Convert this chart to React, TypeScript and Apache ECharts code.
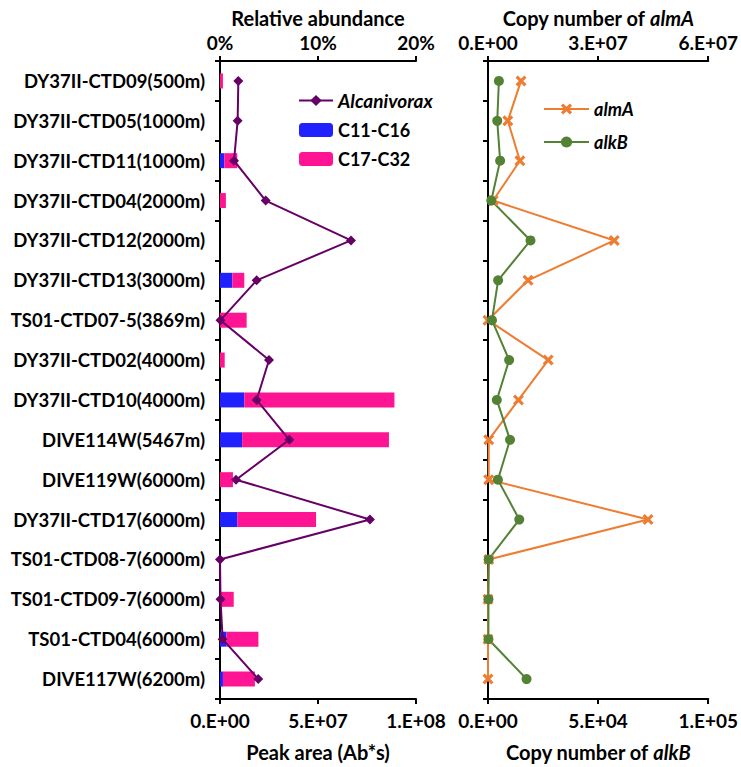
import React, { useEffect, useRef } from "react";
import * as echarts from "echarts";

const categories = [
  "DY37II-CTD09(500m)",
  "DY37II-CTD05(1000m)",
  "DY37II-CTD11(1000m)",
  "DY37II-CTD04(2000m)",
  "DY37II-CTD12(2000m)",
  "DY37II-CTD13(3000m)",
  "TS01-CTD07-5(3869m)",
  "DY37II-CTD02(4000m)",
  "DY37II-CTD10(4000m)",
  "DIVE114W(5467m)",
  "DIVE119W(6000m)",
  "DY37II-CTD17(6000m)",
  "TS01-CTD08-7(6000m)",
  "TS01-CTD09-7(6000m)",
  "TS01-CTD04(6000m)",
  "DIVE117W(6200m)",
];

// Peak area (Ab*s)
const c11c16 = [0, 0, 2.2e6, 0, 0, 6.3e6, 0, 0, 12.4e6, 11.3e6, 0, 8.8e6, 0, 0, 3.3e6, 1.5e6];
const c17c32 = [1.5e6, 0, 6.6e6, 3.0e6, 0, 6.1e6, 13.6e6, 2.4e6, 76.6e6, 74.9e6, 6.6e6, 40.2e6, 0, 7.0e6, 16.3e6, 16.3e6];
// Relative abundance (%)
const alcanivorax = [1.87, 1.8, 1.43, 4.66, 13.37, 3.74, 0.05, 5.0, 3.74, 7.07, 1.63, 15.3, 0.0, 0.05, 0.27, 3.9];
// Copy numbers
const almA = [9.0e6, 5.4e6, 8.7e6, 1.4e6, 34.4e6, 10.9e6, 0, 16.4e6, 8.3e6, 0.2e6, 0.2e6, 43.6e6, 0.2e6, 0, 0, 0];
const alkB = [4.95e3, 4.2e3, 5.5e3, 1.5e3, 19.3e3, 4.6e3, 1.8e3, 9.6e3, 4.0e3, 10.0e3, 4.5e3, 14.2e3, 0.3e3, 0.2e3, 0.2e3, 17.5e3];

const leftTopTicks = { min: 0, max: 20, interval: 10 };
const leftBottomTicks = { min: 0, max: 1e8, interval: 5e7 };
const rightTopTicks = { min: 0, max: 6e7, interval: 3e7 };
const rightBottomTicks = { min: 0, max: 1e5, interval: 5e4 };

const FONT = "Lato";

function sci(v: number): string {
  if (v === 0) return "0.E+00";
  const e = Math.floor(Math.log10(v) + 1e-9);
  const m = Math.round(v / Math.pow(10, e));
  return `${m}.E+${e < 10 ? "0" + e : e}`;
}

const axisLine = { show: true, lineStyle: { color: "#000", width: 2 } };
const axisTick = { show: true, length: 5, lineStyle: { color: "#000", width: 2 } };
const tickLabel = { color: "#000", fontFamily: FONT, fontWeight: "bold" as const, fontSize: 19 };
const nameStyle = {
  color: "#000",
  fontFamily: FONT,
  fontWeight: "bold" as const,
  fontSize: 20,
  rich: {
    i: { fontFamily: FONT, fontWeight: "bold" as const, fontStyle: "italic" as const, fontSize: 20, color: "#000" },
  },
};

const diamondColor = "#660066";
const orange = "#ED7D31";
const green = "#548235";
const xPath = "path://M2,0 L5,3 L8,0 L10,2 L7,5 L10,8 L8,10 L5,7 L2,10 L0,8 L3,5 L0,2 Z";

export default function App() {
  const ref = useRef<HTMLDivElement>(null);
  useEffect(() => {
    if (!ref.current) return;
    const chart = echarts.init(ref.current, null, { renderer: "svg" });
    const option: any = {
      animation: false,
      backgroundColor: "#fff",
      grid: [
        { left: 220, width: 196, top: 61, height: 652 },
        { left: 488, width: 222, top: 61, height: 652 },
      ],
      xAxis: [
        {
          gridIndex: 0, type: "value", position: "bottom", ...leftBottomTicks,
          axisLine, axisTick, splitLine: { show: false },
          axisLabel: { ...tickLabel, margin: 12, formatter: sci },
          name: "Peak area (Ab*s)", nameLocation: "middle", nameGap: 43, nameTextStyle: nameStyle,
        },
        {
          gridIndex: 0, type: "value", position: "top", ...leftTopTicks,
          axisLine, axisTick, splitLine: { show: false },
          axisLabel: { ...tickLabel, margin: 9, formatter: "{value}%" },
          name: "Relative abundance", nameLocation: "middle", nameGap: 33, nameTextStyle: nameStyle,
        },
        {
          gridIndex: 1, type: "value", position: "top", ...rightTopTicks,
          axisLine, axisTick, splitLine: { show: false },
          axisLabel: { ...tickLabel, margin: 9, formatter: sci },
          name: "Copy number of {i|almA}", nameLocation: "middle", nameGap: 33, nameTextStyle: nameStyle,
        },
        {
          gridIndex: 1, type: "value", position: "bottom", ...rightBottomTicks,
          axisLine, axisTick, splitLine: { show: false },
          axisLabel: { ...tickLabel, margin: 12, formatter: sci },
          name: "Copy number of {i|alkB}", nameLocation: "middle", nameGap: 43, nameTextStyle: nameStyle,
        },
      ],
      yAxis: [
        {
          gridIndex: 0, type: "category", data: categories, inverse: true,
          axisLine, axisTick,
          axisLabel: { ...tickLabel, fontSize: 18.5, margin: 15 },
          splitLine: { show: false },
        },
        {
          gridIndex: 1, type: "category", data: categories, inverse: true,
          axisLine, axisTick, axisLabel: { show: false }, splitLine: { show: false },
        },
      ],
      legend: [
        {
          orient: "vertical", left: 293, top: 86, itemWidth: 34, itemHeight: 14, itemGap: 11,
          textStyle: { color: "#000", fontFamily: FONT, fontWeight: "bold", fontSize: 18 },
          data: [
            { name: "Alcanivorax", textStyle: { fontStyle: "italic", fontSize: 19 } },
            { name: "C11-C16" },
            { name: "C17-C32" },
          ],
        },
        {
          orient: "vertical", left: 538, top: 95, itemWidth: 45, itemHeight: 14, itemGap: 15,
          textStyle: { color: "#000", fontFamily: FONT, fontWeight: "bold", fontStyle: "italic", fontSize: 18 },
          data: [{ name: "almA" }, { name: "alkB" }],
        },
      ],
      series: [
        {
          name: "C11-C16", type: "bar", stack: "pa", xAxisIndex: 0, yAxisIndex: 0,
          barWidth: 15, itemStyle: { color: "#2121FF" }, data: c11c16,
        },
        {
          name: "C17-C32", type: "bar", stack: "pa", xAxisIndex: 0, yAxisIndex: 0,
          barWidth: 15, itemStyle: { color: "#FF1493" }, data: c17c32,
        },
        {
          name: "Alcanivorax", type: "line", xAxisIndex: 1, yAxisIndex: 0,
          symbol: "diamond", symbolSize: 10, clip: false,
          lineStyle: { color: diamondColor, width: 2 }, itemStyle: { color: diamondColor },
          data: alcanivorax.map((v, i) => [v, categories[i]]),
          z: 5,
        },
        {
          name: "almA", type: "line", xAxisIndex: 2, yAxisIndex: 1,
          symbol: xPath, symbolSize: 11, clip: false,
          lineStyle: { color: orange, width: 2 }, itemStyle: { color: orange },
          data: almA.map((v, i) => [v, categories[i]]),
        },
        {
          name: "alkB", type: "line", xAxisIndex: 3, yAxisIndex: 1,
          symbol: "circle", symbolSize: 10, clip: false,
          lineStyle: { color: green, width: 2 }, itemStyle: { color: green },
          data: alkB.map((v, i) => [v, categories[i]]),
          z: 3,
        },
      ],
    };
    chart.setOption(option);
    return () => chart.dispose();
  }, []);
  return <div ref={ref} style={{ width: 741, height: 767, position: "absolute", left: 0, top: 0 }} />;
}
